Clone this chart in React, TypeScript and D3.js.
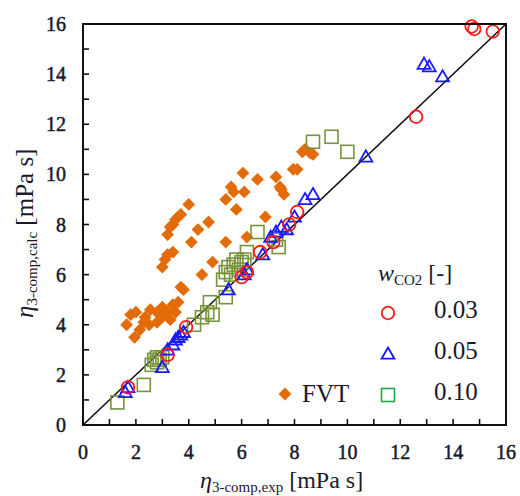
import React from 'react';
import * as d3 from 'd3';

const width = 520;
const height = 496;
const margin = { top: 24, right: 14, bottom: 71, left: 83 };

// [exp, calc] pairs
const w003 = [
  [1.7, 1.5], [3.2, 2.8], [3.9, 3.9], [6.0, 5.9], [6.2, 6.1], [6.7, 6.9], [7.2, 7.3],
  [7.8, 8.0], [8.1, 8.5], [12.6, 12.3], [14.7, 15.9], [14.8, 15.8], [15.5, 15.7],
];
const w005 = [
  [1.6, 1.3], [1.7, 1.5], [3.0, 2.3], [3.2, 3.0], [3.4, 3.2], [3.5, 3.4], [3.6, 3.5],
  [3.7, 3.6], [3.8, 3.7], [5.5, 5.4], [6.1, 6.0], [6.2, 6.2], [6.8, 6.8], [7.1, 7.5],
  [7.3, 7.7], [7.5, 7.9], [7.7, 7.8], [8.0, 8.3], [8.4, 9.0], [8.7, 9.2], [10.7, 10.7],
  [12.9, 14.4], [13.1, 14.3], [13.6, 13.9],
];
const w010 = [
  [1.3, 0.9], [2.3, 1.6], [2.6, 2.4], [2.7, 2.6], [2.8, 2.7], [2.9, 2.6], [3.0, 2.7],
  [2.8, 2.5], [4.2, 4.0], [4.5, 4.3], [4.7, 4.5], [4.8, 4.9], [4.9, 4.4], [5.4, 5.1],
  [5.3, 5.8], [5.4, 6.1], [5.5, 6.3], [5.6, 6.0], [5.7, 6.4], [5.8, 6.6], [5.9, 6.2],
  [6.0, 6.5], [6.2, 6.9], [6.1, 6.6], [6.6, 7.7], [7.3, 7.4], [7.4, 7.1], [8.7, 11.3],
  [9.4, 11.5], [10.0, 10.9],
];
const fvt = [
  [1.65, 4.0], [1.8, 4.4], [1.95, 3.5], [2.0, 4.5], [2.15, 3.8], [2.3, 4.1], [2.35, 4.3],
  [2.5, 4.0], [2.55, 4.6], [2.8, 4.5], [2.8, 4.1], [3.0, 4.7], [3.0, 4.3], [3.2, 4.5],
  [3.3, 4.2], [3.4, 4.8], [3.5, 4.5], [3.6, 4.9], [3.7, 5.5], [3.8, 5.4],
  [3.0, 6.3], [3.1, 6.6], [3.2, 6.8], [3.4, 6.9], [3.2, 7.6], [3.3, 7.9], [3.4, 8.0],
  [3.5, 8.2], [3.6, 8.3], [3.7, 8.4], [4.0, 8.8],
  [4.5, 6.0], [4.9, 6.5], [4.1, 7.3], [4.35, 7.8], [4.75, 8.1], [5.4, 7.3], [5.8, 8.6],
  [5.4, 9.0], [5.6, 9.5], [5.7, 9.3], [6.05, 10.05], [6.1, 9.3], [6.2, 7.5], [6.6, 9.8],
  [6.9, 8.3],
  [7.3, 9.9], [7.45, 9.5], [7.6, 9.2], [7.5, 9.4], [7.95, 10.2], [8.1, 10.2], [8.3, 10.9],
  [8.4, 11.0], [8.6, 10.85], [8.7, 10.8],
];
const majorTicks = [0, 2, 4, 6, 8, 10, 12, 14, 16];
const minorTicks = [1, 3, 5, 7, 9, 11, 13, 15];
const legendLabels = ['0.03', '0.05', '0.10'];

const red = '#ff1a1a';
const blue = '#1a1aff';
const olive = '#77933c';
const green = '#22a84a';
const orange = '#e36c09';
const ink = '#1a1a2a';
const serifFont = 'Liberation Serif';

const x = d3.scaleLinear().domain([0, 16]).range([margin.left, width - margin.right]);
const y = d3.scaleLinear().domain([0, 16]).range([height - margin.bottom, margin.top]);

const tri = d3.symbol().type(d3.symbolTriangle).size(72)();
const diamond = d3.symbol().type(d3.symbolDiamond2).size(104)();

function Circle({ cx, cy, color }) {
  return <circle cx={cx} cy={cy} r={6.3} fill="none" stroke={color} strokeWidth={1.8} />;
}
function Tri({ cx, cy, color }) {
  return <path d={tri} transform={`translate(${cx},${cy + 1})`} fill="none" stroke={color} strokeWidth={1.8} />;
}
function Square({ cx, cy, color }) {
  return <rect x={cx - 6.5} y={cy - 6.5} width={13} height={13} fill="none" stroke={color} strokeWidth={1.6} />;
}
function Diamond({ cx, cy, color }) {
  return <path d={diamond} transform={`translate(${cx},${cy})`} fill={color} />;
}

export default function App() {
  const x0 = x(0), x1 = x(16), y0 = y(0), y1 = y(16);
  return (
    <svg width={width} height={height} fontFamily={serifFont}
      style={{ position: 'absolute', left: 0, top: 0, background: '#fff' }}>
      {/* 1:1 line */}
      <line x1={x(0)} y1={y(0)} x2={x(16)} y2={y(16)} stroke="#111" strokeWidth={1.6} />

      {fvt.map((d, i) => <Diamond key={'f' + i} cx={x(d[0])} cy={y(d[1])} color={orange} />)}
      {w010.map((d, i) => <Square key={'g' + i} cx={x(d[0])} cy={y(d[1])} color={olive} />)}
      {w005.map((d, i) => <Tri key={'b' + i} cx={x(d[0])} cy={y(d[1])} color={blue} />)}
      {w003.map((d, i) => <Circle key={'r' + i} cx={x(d[0])} cy={y(d[1])} color={red} />)}

      {/* frame */}
      <rect x={x0} y={y1} width={x1 - x0} height={y0 - y1} fill="none" stroke="#111" strokeWidth={2} />

      {/* ticks, inward */}
      {majorTicks.concat(minorTicks).map((t) => (
        <g key={'t' + t} stroke="#111" strokeWidth={1.6}>
          <line x1={x(t)} x2={x(t)} y1={y0} y2={y0 - 6} />
          <line x1={x0} x2={x0 + 6} y1={y(t)} y2={y(t)} />
        </g>
      ))}
      {majorTicks.map((t) => (
        <g key={'l' + t} fontFamily={serifFont} fontSize={20} fill={ink} stroke={ink} strokeWidth={0.5}>
          <text x={x(t)} y={y0 + 34} textAnchor="middle">{t}</text>
          <text x={x0 - 17} y={y(t) + 7} textAnchor="end">{t}</text>
        </g>
      ))}

      {/* axis titles */}
      <text x={200} y={488} fontFamily={serifFont} fontSize={24} fill={ink}>
        <tspan fontStyle="italic">η</tspan>
        <tspan fontSize={15} dy={4}>3-comp,exp</tspan>
        <tspan dy={-4}> [mPa s]</tspan>
      </text>
      <text transform="translate(33,318) rotate(-90)" fontFamily={serifFont} fontSize={25} fill={ink}>
        <tspan fontStyle="italic">η</tspan>
        <tspan fontSize={15} dy={4}>3-comp,calc</tspan>
        <tspan dy={-4}> [mPa s]</tspan>
      </text>

      {/* legend */}
      <text x={378} y={281} fontFamily={serifFont} fontSize={24} fill={ink}>
        <tspan fontStyle="italic">w</tspan>
        <tspan fontSize={15} dy={4}>CO2</tspan>
        <tspan dy={-4}> [-]</tspan>
      </text>
      <Circle cx={388} cy={313} color={red} />
      <Tri cx={388} cy={354} color={blue} />
      <Square cx={388} cy={395} color={green} />
      {legendLabels.map((s, i) => (
        <text key={s} x={434} y={318 + i * 41} fontFamily={serifFont} fontSize={25} fill={ink}>{s}</text>
      ))}
      <Diamond cx={285} cy={394} color={orange} />
      <text x={302} y={402} fontFamily={serifFont} fontSize={25} fill={ink}>FVT</text>
    </svg>
  );
}
